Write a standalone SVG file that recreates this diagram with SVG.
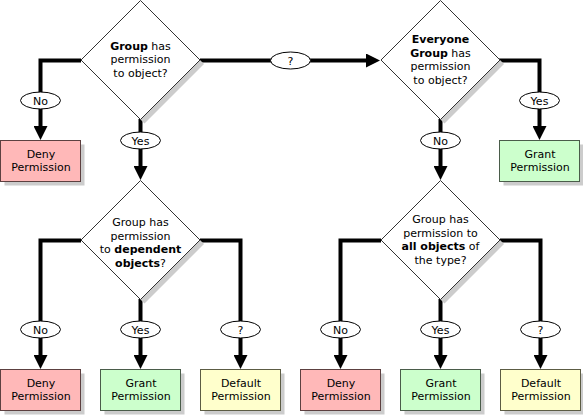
<svg xmlns="http://www.w3.org/2000/svg" width="583" height="416" viewBox="0 0 583 416">
<defs>
<marker id="arr" markerUnits="userSpaceOnUse" markerWidth="14" markerHeight="14" refX="4" refY="7" orient="auto">
<path d="M0,0 L14,7 L0,14 z" fill="#000"/>
</marker>
<style>
text{font-family:"DejaVu Sans","Verdana",sans-serif;font-size:11px;fill:#000;text-anchor:middle}
.b{font-weight:bold}
.dia{fill:#fff;stroke:#333;stroke-width:1}
.dsh{fill:#cccccc}
.sh{fill:#cccccc}
.deny{fill:#ffb8b8;stroke:#5c4040;stroke-width:1}
.grant{fill:#ccffcc;stroke:#4a5c4a;stroke-width:1}
.def{fill:#ffffcc;stroke:#5c5c44;stroke-width:1}
.lab{fill:#fff;stroke:#000;stroke-width:1}
.c{fill:none;stroke:#000;stroke-width:4;marker-end:url(#arr)}
.c0{fill:none;stroke:#000;stroke-width:4}
</style>
</defs>
<rect width="583" height="416" fill="#fff"/>

<g id="connectors">
<path class="c" d="M81,60.5 H40.5 V130"/>
<path class="c" d="M140.5,119 V170"/>
<path class="c" d="M200,60.5 H370"/>
<path class="c" d="M499,60.5 H539.5 V130"/>
<path class="c" d="M440.5,119 V170"/>
<path class="c" d="M81,240.5 H40.5 V359"/>
<path class="c" d="M140.5,299 V359"/>
<path class="c" d="M200,240.5 H240.5 V359"/>
<path class="c" d="M381,240.5 H340.5 V359"/>
<path class="c" d="M440.5,299 V359"/>
<path class="c" d="M500,240.5 H540.5 V359"/>
</g>

<g id="d1">
<polygon class="dsh" points="144.5,4.5 204,64 144.5,123.5 85,64"/>
<polygon class="dia" points="140.5,0.5 200,60 140.5,119.5 81,60"/>
<text x="140.5" y="50"><tspan class="b">Group</tspan> has</text>
<text x="140.5" y="63">permission</text>
<text x="140.5" y="76.5">to object?</text>
</g>

<g id="d2">
<polygon class="dsh" points="444.5,4.5 504,64 444.5,123.5 385,64"/>
<polygon class="dia" points="440.5,0.5 500,60 440.5,119.5 381,60"/>
<text x="440.5" y="43" class="b">Everyone</text>
<text x="440.5" y="56.5"><tspan class="b">Group</tspan> has</text>
<text x="440.5" y="70">permission</text>
<text x="440.5" y="83.5">to object?</text>
</g>

<g id="d3">
<polygon class="dsh" points="144.5,184.5 204,244 144.5,303.5 85,244"/>
<polygon class="dia" points="140.5,180.5 200,240 140.5,299.5 81,240"/>
<text x="140.5" y="226">Group has</text>
<text x="140.5" y="239.5">permission</text>
<text x="140.5" y="253">to <tspan class="b">dependent</tspan></text>
<text x="140.5" y="266.5"><tspan class="b">objects</tspan>?</text>
</g>

<g id="d4">
<polygon class="dsh" points="444.5,184.5 504,244 444.5,303.5 385,244"/>
<polygon class="dia" points="440.5,180.5 500,240 440.5,299.5 381,240"/>
<text x="440.5" y="223">Group has</text>
<text x="440.5" y="236.5">permission to</text>
<text x="440.5" y="250"><tspan class="b">all objects</tspan> of</text>
<text x="440.5" y="263.5">the type?</text>
</g>

<g id="deny1">
<rect class="sh" x="4.5" y="144.5" width="80" height="41"/>
<rect class="deny" x="0.5" y="140.5" width="80" height="41"/>
<text x="41" y="158">Deny</text>
<text x="41" y="171">Permission</text>
</g>
<g id="grant1">
<rect class="sh" x="503.5" y="144.5" width="80" height="41"/>
<rect class="grant" x="499.5" y="140.5" width="80" height="41"/>
<text x="540" y="158">Grant</text>
<text x="540" y="171">Permission</text>
</g>

<g id="deny2">
<rect class="sh" x="4.5" y="373.5" width="80" height="41"/>
<rect class="deny" x="0.5" y="369.5" width="80" height="41"/>
<text x="41" y="387">Deny</text>
<text x="41" y="400">Permission</text>
</g>
<g id="grant2">
<rect class="sh" x="104.5" y="373.5" width="80" height="41"/>
<rect class="grant" x="100.5" y="369.5" width="80" height="41"/>
<text x="141" y="387">Grant</text>
<text x="141" y="400">Permission</text>
</g>
<g id="default2">
<rect class="sh" x="204.5" y="373.5" width="80" height="41"/>
<rect class="def" x="200.5" y="369.5" width="80" height="41"/>
<text x="241" y="387">Default</text>
<text x="241" y="400">Permission</text>
</g>
<g id="deny3">
<rect class="sh" x="304.5" y="373.5" width="80" height="41"/>
<rect class="deny" x="300.5" y="369.5" width="80" height="41"/>
<text x="341" y="387">Deny</text>
<text x="341" y="400">Permission</text>
</g>
<g id="grant3">
<rect class="sh" x="404.5" y="373.5" width="80" height="41"/>
<rect class="grant" x="400.5" y="369.5" width="80" height="41"/>
<text x="441" y="387">Grant</text>
<text x="441" y="400">Permission</text>
</g>
<g id="default3">
<rect class="sh" x="504.5" y="373.5" width="80" height="41"/>
<rect class="def" x="500.5" y="369.5" width="80" height="41"/>
<text x="541" y="387">Default</text>
<text x="541" y="400">Permission</text>
</g>

<g id="labels">
<ellipse class="lab" cx="40.5" cy="100.5" rx="20" ry="8.5"/>
<text x="40.5" y="104.5">No</text>
<ellipse class="lab" cx="140.5" cy="140.5" rx="20" ry="8.5"/>
<text x="140.5" y="144.5">Yes</text>
<ellipse class="lab" cx="290.5" cy="60.5" rx="20" ry="8.5"/>
<text x="290.5" y="64.5">?</text>
<ellipse class="lab" cx="539.5" cy="100.5" rx="20" ry="8.5"/>
<text x="539.5" y="104.5">Yes</text>
<ellipse class="lab" cx="440.5" cy="140.5" rx="20" ry="8.5"/>
<text x="440.5" y="144.5">No</text>
<ellipse class="lab" cx="40.5" cy="329.5" rx="20" ry="8.5"/>
<text x="40.5" y="333.5">No</text>
<ellipse class="lab" cx="140.5" cy="329.5" rx="20" ry="8.5"/>
<text x="140.5" y="333.5">Yes</text>
<ellipse class="lab" cx="240.5" cy="329.5" rx="20" ry="8.5"/>
<text x="240.5" y="333.5">?</text>
<ellipse class="lab" cx="340.5" cy="329.5" rx="20" ry="8.5"/>
<text x="340.5" y="333.5">No</text>
<ellipse class="lab" cx="440.5" cy="329.5" rx="20" ry="8.5"/>
<text x="440.5" y="333.5">Yes</text>
<ellipse class="lab" cx="540.5" cy="329.5" rx="20" ry="8.5"/>
<text x="540.5" y="333.5">?</text>
</g>
</svg>
